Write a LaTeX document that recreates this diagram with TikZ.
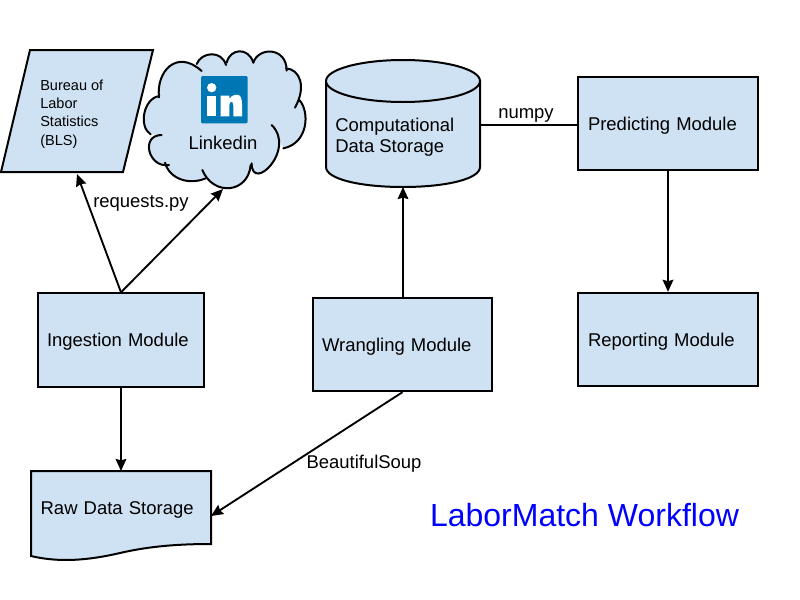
\documentclass[tikz,border=0pt]{standalone}
\usepackage{fontspec}
\setmainfont{Liberation Sans}
\usetikzlibrary{arrows.meta}
\definecolor{boxfill}{HTML}{CFE2F3}
\definecolor{logoblue}{HTML}{0077B5}
\tikzset{
  x=0.75pt,y=-0.75pt,
  outline/.style={draw=black,line width=1.5pt,fill=boxfill,line join=miter},
  box/.style={outline,rectangle,minimum height=#1,inner xsep=6.75pt,inner ysep=0pt,align=left,text height=10pt,text depth=0pt,font=\fontsize{13.85}{16}\selectfont},
  plainlabel/.style={inner sep=0pt,text height=10pt,text depth=0pt,font=\fontsize{13.85}{16}\selectfont},
  conn/.style={draw=black,line width=1.4pt},
  arr/.style={conn,-{Stealth[length=9pt,width=8pt,inset=1pt]}},
  cloudline/.style={draw=black,line width=1.5pt,line cap=round}
}
\begin{document}
\begin{tikzpicture}
\useasboundingbox (0,0) rectangle (800,600);
\fill[white] (0,0) rectangle (800,600);

% BLS parallelogram
\draw[outline] (30,50) -- (153,50) -- (123,172) -- (1,172) -- cycle;
\node[inner sep=0pt,anchor=north west,align=left,font=\fontsize{10.9}{13.7}\selectfont] (bls) at (40,79.5) {Bureau of\\Labor\\Statistics\\(BLS)};
\coordinate (blsin) at (77,174);

% Cloud (coordinates in 3x zoom units)
\begin{scope}[shift={(0,40)},x=0.25pt,y=-0.25pt]
\fill[boxfill]
 (477,172) .. controls (468,95) and (530,25) .. (605,93)
 -- (590,72) .. controls (605,35) and (665,30) .. (678,75)
 -- (680,68) .. controls (690,25) and (745,20) .. (760,68)
 .. controls (775,20) and (860,20) .. (860,92)
 -- (858,85) .. controls (900,88) and (920,140) .. (885,203)
 -- (898,180) .. controls (930,215) and (925,310) .. (850,325)
 -- (815,255) .. controls (890,330) and (755,460) .. (755,370)
 -- (752,375) .. controls (745,460) and (640,470) .. (607,390)
 -- (617,415) .. controls (570,435) and (510,420) .. (495,368)
 -- (507,375) .. controls (445,385) and (420,285) .. (485,285)
 -- (452,283) .. controls (415,260) and (430,175) .. (478,168) -- cycle;
\fill[boxfill] (600,90) rectangle (800,300);
\draw[cloudline] (477,172) .. controls (468,95) and (530,25) .. (605,93);
\draw[cloudline] (590,72) .. controls (605,35) and (665,30) .. (678,75);
\draw[cloudline] (680,68) .. controls (690,25) and (745,20) .. (760,68);
\draw[cloudline] (760,68) .. controls (775,20) and (860,20) .. (860,92);
\draw[cloudline] (858,85) .. controls (900,88) and (920,140) .. (885,203);
\draw[cloudline] (898,180) .. controls (930,215) and (925,310) .. (850,325);
\draw[cloudline] (815,255) .. controls (890,330) and (755,460) .. (755,370);
\draw[cloudline] (752,375) .. controls (745,460) and (640,470) .. (607,390);
\draw[cloudline] (617,415) .. controls (570,435) and (510,420) .. (495,368);
\draw[cloudline] (507,375) .. controls (445,385) and (420,285) .. (485,285);
\draw[cloudline] (452,283) .. controls (415,260) and (430,175) .. (478,168);
% logo
\fill[logoblue,rounded corners=1pt] (603,108) rectangle (743,250);
\fill[white] (635,143) circle (14);
\fill[white] (622,167) rectangle (648,229);
\fill[white] (662,167) -- (688,167) -- (688,176) .. controls (696,165) and (708,163) .. (716,165)
 .. controls (722,167) and (726,178) .. (726,192) -- (726,229) -- (700,229) -- (700,197)
 .. controls (700,188) and (697,185) .. (694,185) .. controls (690,185) and (688,190) .. (688,197)
 -- (688,229) -- (662,229) -- cycle;
\end{scope}
\node[plainlabel] (linkedin) at (223,143) {Linkedin};
\coordinate (liin) at (223,189);

% Cylinder
\draw[outline] (326,81) -- (326,167) .. controls (326,179) and (360,187) .. (403,187)
 .. controls (446,187) and (480,179) .. (480,167) -- (480,81) -- cycle;
\draw[outline] (403,81) ellipse [x radius=77,y radius=21];
\node[inner sep=0pt,anchor=west,align=left,font=\fontsize{13.85}{15.75}\selectfont] (comp) at (335,137) {Computational\\Data Storage};
\coordinate (compin) at (403,187);
\coordinate (compout) at (480,125);

% Boxes
\node[box=70pt,text width=111pt] (ing) at (121,340) {Ingestion Module};
\node[box=70pt,text width=120.75pt] (wra) at (402.5,344.5) {Wrangling Module};
\node[box=70pt,inner xsep=7.5pt,text width=120pt] (pre) at (668,123.5) {Predicting Module};
\node[box=70pt,inner xsep=7.5pt,text width=120pt] (rep) at (668,339.5) {Reporting Module};

% Raw data storage
\draw[outline] (31,471) -- (211,471) -- (211,544) .. controls (180,544) and (150,546) .. (120,553)
 .. controls (90,560) and (60,563) .. (31,556) -- cycle;
\node[inner sep=0pt,text height=10pt,text depth=0pt,font=\fontsize{13.85}{16}\selectfont,text width=122pt,align=left] (raw) at (122,508) {Raw Data Storage};
\coordinate (rawtop) at (121,471);
\coordinate (rawin) at (211,516);

% Connectors
\coordinate (ingtop) at (ing.north);
\draw[arr] (ingtop) -- (blsin);
\draw[arr] (ingtop) -- (liin);
\draw[arr] (ing.south) -- (rawtop);
\draw[arr] (wra.north -| compin) -- (compin);
\draw[arr] (wra.south) -- (rawin);
\draw[conn] (compout) -- (compout -| pre.west);
\draw[arr] (pre.south) -- (rep.north);

% Labels
\node[plainlabel] (lreq) at (141,201) {requests.py};
\node[plainlabel] (lnum) at (526,112) {numpy};
\node[plainlabel] (lbs) at (364,462) {BeautifulSoup};
\node[inner sep=0pt,text=blue,font=\fontsize{24}{28}\selectfont] (title) at (584.5,515) {LaborMatch Workflow};
\end{tikzpicture}
\end{document}
